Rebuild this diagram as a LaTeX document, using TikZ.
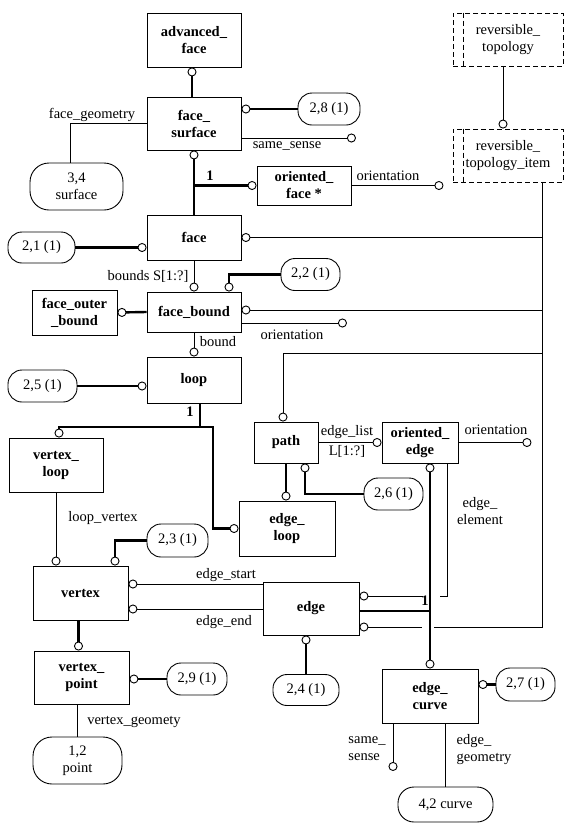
\documentclass[tikz,border=0pt]{standalone}
\usepackage{fontspec}
\setmainfont{Liberation Serif}
\usetikzlibrary{arrows.meta}

\begin{document}
\begin{tikzpicture}[x=1pt,y=-1pt,line width=0.9pt,
  font=\fontsize{14.5}{17}\selectfont,
  ring/.tip={Circle[open,length=9pt 0 0,width=9pt 0 0,line width=0.9pt 0 1]}]
\tikzstyle{ent}=[draw,rectangle,align=center,inner sep=0pt,font=\fontsize{14.5}{17}\selectfont\bfseries]
\tikzstyle{typ}=[draw,rounded corners=14pt,align=center,inner sep=0pt]
\tikzstyle{bigtyp}=[draw,rounded corners=19pt,align=center,inner sep=0pt]
\tikzstyle{ghost}=[draw,dash pattern=on 5pt off 3pt,align=center,inner sep=0pt]
\tikzstyle{lbl}=[align=center,inner sep=1pt]
\tikzstyle{heavy}=[line width=2.4pt]
\useasboundingbox (0,0) rectangle (573,828);

% entities and type references
\node[ent,minimum width=94pt,minimum height=54pt] (advface) at (194,40) {advanced\_\\face};
\node[ent,minimum width=94pt,minimum height=53pt] (fsurf) at (194,123.5) {face\_\\surface};
\node[bigtyp,minimum width=93pt,minimum height=47pt] (surf34) at (76.5,186.5) {3,4\\surface};
\node[typ,minimum width=62pt,minimum height=32pt] (r28) at (329,109) {2,8 (1)};
\node[ent,minimum width=94pt,minimum height=39pt] (oface) at (304,185.5) {oriented\_\\face *};
\node[ghost,minimum width=110pt,minimum height=53pt] (revtop) at (508,39.5) {reversible\_\\topology};
\node[ghost,minimum width=110pt,minimum height=53pt] (revitem) at (508,155.5) {reversible\_\\topology\_item};
\node[ent,minimum width=94pt,minimum height=45pt] (face) at (194,237.5) {face};
\node[typ,minimum width=67pt,minimum height=31pt] (r21) at (41.5,247.5) {2,1 (1)};
\node[ent,minimum width=94pt,minimum height=40pt] (fbound) at (194,312) {face\_bound};
\node[typ,minimum width=59pt,minimum height=32pt] (r22) at (310.5,274.5) {2,2 (1)};
\node[ent,minimum width=85pt,minimum height=45pt] (fouter) at (74.5,312.5) {face\_outer\\\_bound};
\node[ent,minimum width=94pt,minimum height=46pt] (loop) at (194,380) {loop};
\node[typ,minimum width=69pt,minimum height=32pt] (r25) at (42.5,386) {2,5 (1)};
\node[ent,minimum width=94pt,minimum height=54pt] (vloop) at (56,465) {vertex\_\\loop};
\node[ent,minimum width=64pt,minimum height=41pt] (path) at (286,442.5) {path};
\node[ent,minimum width=76pt,minimum height=41pt] (oedge) at (420,442.5) {oriented\_\\edge};
\node[ent,minimum width=96pt,minimum height=55pt] (eloop) at (287,528.5) {edge\_\\loop};
\node[typ,minimum width=59pt,minimum height=32pt] (r26) at (393.5,494) {2,6 (1)};
\node[typ,minimum width=61pt,minimum height=33pt] (r23) at (177.5,540.5) {2,3 (1)};
\node[ent,minimum width=95pt,minimum height=54pt] (vertex) at (80.5,593) {vertex};
\node[ent,minimum width=96pt,minimum height=53pt] (edge) at (311,608.5) {edge};
\node[typ,minimum width=66pt,minimum height=31pt] (r24) at (306,690) {2,4 (1)};
\node[ent,minimum width=95pt,minimum height=53pt] (vpoint) at (81.5,677.5) {vertex\_\\point};
\node[typ,minimum width=60pt,minimum height=32pt] (r29) at (197,679) {2,9 (1)};
\node[bigtyp,minimum width=89pt,minimum height=47pt] (p12) at (77.5,760.5) {1,2\\point};
\node[ent,minimum width=96pt,minimum height=54pt] (ecurve) at (430,696) {edge\_\\curve};
\node[typ,minimum width=59pt,minimum height=33pt] (r27) at (525.5,684.5) {2,7 (1)};
\node[typ,rounded corners=16pt,minimum width=95pt,minimum height=35pt] (c42) at (445.5,804.5) {4,2 curve};

\coordinate (bus) at (542,627);
\coordinate (fork) at (200,427);
\coordinate (ofork) at (430,611);

% double left edges of the dashed boxes
\draw[dash pattern=on 5pt off 3pt] ([xshift=11pt]revtop.north west) -- ([xshift=11pt]revtop.south west);
\draw[dash pattern=on 5pt off 3pt] ([xshift=11pt]revitem.north west) -- ([xshift=11pt]revitem.south west);
\draw[-ring] ([xshift=-5pt]revtop.south) -- ([xshift=-5pt]revitem.north);

% face_surface
\draw[heavy,-ring] ([xshift=-2pt]fsurf.north) -- ([xshift=-2pt]advface.south);
\draw[heavy,ring-] (fsurf.east |- r28) -- (r28.west);
\draw[-ring] ([yshift=-14.5pt]fsurf.east) -- ++(114.5,0);
\node[lbl] (lss) at (287,146) {same\_sense};
\draw ([xshift=-6.5pt]surf34.north) |- (fsurf.west);
\node[lbl] (lfg) at (92,115) {face\_geometry};

% face and its subtypes
\draw[heavy,-ring] (face.north) -- (fsurf.south);
\draw[heavy,-ring] (face.north |- oface.west) -- (oface.west);
\node[lbl,font=\fontsize{14.5}{17}\selectfont\bfseries] (one1) at (210,176) {1};
\draw[-ring] (oface.east) -- ++(92,0);
\node[lbl] (lor1) at (388,176) {orientation};
\draw[ring-] (face.east) -- (face.east -| bus);
\draw[heavy,-ring] (r21.east) -- (face.west |- r21);
\draw[-ring] (face.south) -- (fbound.north);
\node[lbl] (lbs) at (148,276) {bounds S[1:?]};

% face_bound
\draw[heavy,ring-] ([xshift=35pt]fbound.north) |- (r22.west);
\draw[heavy,-ring] (fbound.west) -- (fouter.east);
\coordinate (fbr) at ([yshift=2pt]fbound.east);
\draw[ring-] (fbr) -- (fbr -| bus);
\draw[-ring] ([yshift=-11pt]fbound.east) -- ++(105.5,0);
\node[lbl] (lor2) at (292,335) {orientation};
\draw[-ring] (fbound.south) -- (loop.north);
\node[lbl] (lbd) at (218,342) {bound};

% loop
\draw[heavy,-ring] (r25.east) -- (loop.west |- r25);
\draw[heavy] (loop.south -| fork) -- (fork);
\draw[heavy,-ring] (fork) -| ([xshift=3pt]vloop.north);
\draw[heavy,-ring] (fork) -- ++(13,0) |- (eloop.west);
\node[lbl,font=\fontsize{14.5}{17}\selectfont\bfseries] (one2) at (190,412) {1};
\draw[-ring] (vloop.south) -- (vloop.south |- vertex.north);
\node[lbl] (llv) at (103,518) {loop\_vertex};

% vertex
\draw[heavy,ring-] ([xshift=34.5pt]vertex.north) |- (r23.west);
\coordinate (es) at ([yshift=9pt]vertex.east);
\coordinate (ee) at ([yshift=-16pt]vertex.east);
\draw[ring-] (es) -- (es -| edge.west);
\draw[ring-] (ee) -- (ee -| edge.west);
\node[lbl] (lst) at (226,575) {edge\_start};
\node[lbl] (len) at (224,622) {edge\_end};
\draw[heavy,-ring] ([xshift=-2pt]vertex.south) -- ([xshift=-2pt]vertex.south |- vpoint.north);
\draw[heavy,-ring] (r29.west) -- (vpoint.east |- r29);
\draw (p12.north) -- (p12.north |- vpoint.south);
\node[lbl] (lvg) at (134,722) {vertex\_geomety};

% path
\draw[ring-] ([xshift=-3pt]path.north) |- (bus |- 0,353);
\draw[heavy,ring-] ([xshift=19pt]path.south) |- (r26.west);
\draw[heavy,-ring] (path.south) -- (path.south |- eloop.north);
\draw[-ring] (path.east) -- (oedge.west);
\node[lbl] (lel) at (347,432) {edge\_list};
\node[lbl] (lL) at (347,451) {L[1:?]};
\draw[-ring] (oedge.east) -- ++(73,0);
\node[lbl] (lor3) at (496,430) {orientation};

% edge and its subtypes
\draw[heavy] (edge.east |- ofork) -- (ofork);
\draw[heavy,-ring] (ofork) -- (ofork |- oedge.south);
\draw[heavy,-ring] (ofork) -- (ofork |- ecurve.north);
\node[lbl,font=\fontsize{14.5}{17}\selectfont\bfseries] (one3) at (425,601) {1};
\coordinate (eu) at ([yshift=12.5pt]edge.east);
\draw[ring-] (eu) -- ([xshift=-7pt]eu -| ofork);
\draw ([xshift=10pt]eu -| ofork) -| ([xshift=27pt]oedge.south);
\node[lbl] (lee) at (480,511) {edge\_\\element};
\coordinate (ed) at ([yshift=-18.5pt]edge.east);
\draw[ring-] (ed) -- ([xshift=-8pt]ed -| ofork);
\draw ([xshift=4pt]ed -| ofork) -| ([xshift=34pt]revitem.south);
\draw[heavy,-ring] (r24.north) -- (r24.north |- edge.south);

% edge_curve
\draw[heavy,-ring] (r27.west) -- (ecurve.east |- r27);
\draw[-ring] ([xshift=-37pt]ecurve.south) -- ++(0,47.5);
\node[lbl,align=left] (lss2) at (367,749) {same\_\\sense};
\draw (c42.north) -- (c42.north |- ecurve.south);
\node[lbl,align=left] (leg) at (484,750) {edge\_\\geometry};
\end{tikzpicture}
\end{document}
